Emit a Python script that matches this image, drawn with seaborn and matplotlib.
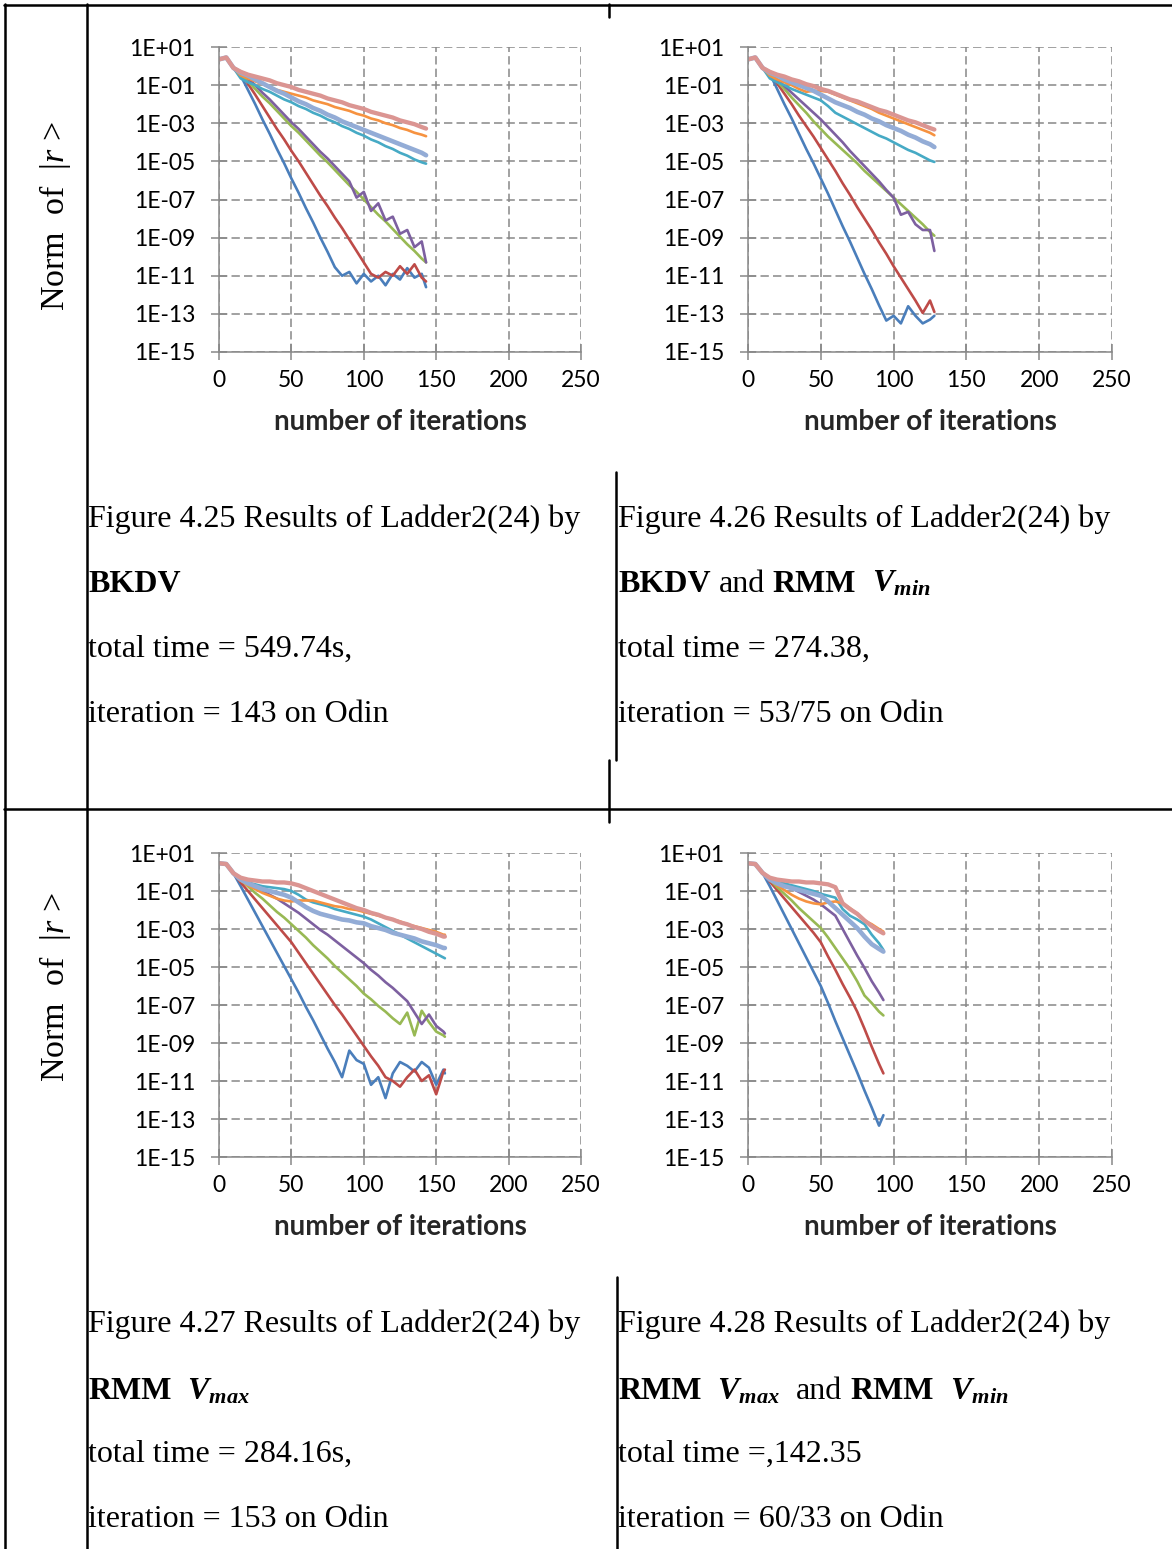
import numpy as np
import pandas as pd
import matplotlib
matplotlib.use("Agg")
import matplotlib.pyplot as plt
import seaborn as sns
from matplotlib.lines import Line2D
from matplotlib.ticker import NullLocator

# ---------------- data (log10 of residual norm) ----------------
SERIES = ["Series1", "Series2", "Series3", "Series4", "Series5", "Series6", "Series7", "Series8"]

F425_ITER = [0, 5, 10, 15, 20, 25, 30, 35, 40, 45, 50, 55, 60, 65, 70, 75, 80, 85, 90, 95,
             100, 105, 110, 115, 120, 125, 130, 135, 140, 143]
F425_S1 = [0.35, 0.45, -0.1, -0.5, -1.25, -2.0, -2.8, -3.55, -4.35, -5.1, -5.9, -6.65, -7.45, -8.2, -9.0,
           -9.75, -10.55, -11.0, -10.8, -11.4, -10.9, -11.3, -11.0, -11.5, -10.9, -11.2, -10.6, -11.1, -10.9, -11.6]
F425_S2 = [0.35, 0.45, -0.1, -0.35, -0.93, -1.5, -2.1, -2.7, -3.3, -3.85, -4.45, -5.0, -5.6, -6.2, -6.8,
           -7.35, -7.95, -8.5, -9.1, -9.7, -10.3, -10.9, -11.1, -10.8, -11.0, -10.5, -10.9, -10.4, -11.1, -11.3]
F425_S3 = [0.35, 0.45, -0.1, -0.45, -0.8, -1.2, -1.6, -1.95, -2.35, -2.75, -3.15, -3.5, -3.9, -4.3, -4.7,
           -5.05, -5.45, -5.85, -6.25, -6.6, -7.0, -7.4, -7.8, -8.15, -8.55, -8.95, -9.35, -9.7, -10.1, -10.3]
F425_S4 = [0.35, 0.45, -0.1, -0.35, -0.65, -1.0, -1.4, -1.75, -2.15, -2.55, -2.95, -3.3, -3.7, -4.1, -4.5,
           -4.85, -5.25, -5.65, -6.05, -6.9, -6.6, -7.6, -7.2, -8.1, -7.9, -8.8, -8.6, -9.5, -9.2, -10.3]
F425_S5 = [0.35, 0.45, -0.1, -0.65, -0.85, -1.0, -1.2, -1.35, -1.55, -1.75, -1.9, -2.1, -2.25, -2.45, -2.6,
           -2.8, -2.95, -3.15, -3.3, -3.5, -3.65, -3.85, -4.0, -4.2, -4.35, -4.55, -4.7, -4.9, -5.05, -5.12]
F425_S6 = [0.35, 0.45, -0.1, -0.5, -0.65, -0.8, -0.95, -1.1, -1.25, -1.35, -1.45, -1.55, -1.65, -1.8, -1.9,
           -2.0, -2.15, -2.25, -2.35, -2.5, -2.6, -2.75, -2.85, -3.0, -3.1, -3.25, -3.35, -3.5, -3.6, -3.68]
F425_S7 = [0.35, 0.45, -0.1, -0.35, -0.5, -0.7, -0.9, -1.1, -1.3, -1.45, -1.65, -1.85, -2.0, -2.2, -2.35,
           -2.55, -2.7, -2.9, -3.05, -3.2, -3.35, -3.5, -3.65, -3.8, -3.95, -4.1, -4.25, -4.4, -4.55, -4.68]
F425_S8 = [0.35, 0.45, -0.1, -0.3, -0.45, -0.55, -0.65, -0.75, -0.9, -1.0, -1.1, -1.25, -1.35, -1.45, -1.55,
           -1.7, -1.8, -1.9, -2.05, -2.15, -2.25, -2.4, -2.5, -2.6, -2.7, -2.85, -2.95, -3.05, -3.2, -3.28]

F426_ITER = [0, 5, 10, 15, 20, 25, 30, 35, 40, 45, 50, 55, 60, 65, 70, 75, 80, 85, 90, 95,
             100, 105, 110, 115, 120, 125, 128]
F426_S1 = [0.35, 0.45, -0.1, -0.4, -1.2, -2.0, -2.75, -3.55, -4.35, -5.1, -5.9, -6.7, -7.55, -8.4, -9.2,
           -10.05, -10.9, -11.7, -12.55, -13.35, -13.1, -13.5, -12.6, -13.1, -13.5, -13.3, -13.1]
F426_S2 = [0.35, 0.45, -0.1, -0.35, -0.9, -1.45, -2.0, -2.6, -3.15, -3.7, -4.3, -4.9, -5.5, -6.15, -6.75,
           -7.4, -8.0, -8.6, -9.25, -9.85, -10.5, -11.1, -11.7, -12.3, -12.95, -12.3, -12.9]
F426_S3 = [0.35, 0.45, -0.1, -0.4, -0.8, -1.2, -1.65, -2.05, -2.45, -2.9, -3.3, -3.7, -4.05, -4.4, -4.75,
           -5.1, -5.5, -5.85, -6.2, -6.55, -6.9, -7.25, -7.6, -7.95, -8.3, -8.7, -8.9]
F426_S4 = [0.35, 0.45, -0.1, -0.4, -0.7, -1.05, -1.4, -1.75, -2.1, -2.45, -2.8, -3.2, -3.6, -4.0, -4.45,
           -4.85, -5.25, -5.65, -6.05, -6.5, -6.9, -7.8, -7.65, -8.3, -8.6, -8.6, -9.7]
F426_S5 = [0.35, 0.45, -0.1, -0.65, -0.85, -1.0, -1.2, -1.35, -1.5, -1.65, -1.8, -2.1, -2.45, -2.65, -2.85,
           -3.05, -3.25, -3.45, -3.65, -3.8, -4.0, -4.2, -4.4, -4.55, -4.75, -4.95, -5.03]
F426_S6 = [0.35, 0.45, -0.1, -0.5, -0.7, -0.85, -1.0, -1.2, -1.35, -1.3, -1.3, -1.35, -1.5, -1.65, -1.8,
           -1.95, -2.1, -2.25, -2.45, -2.6, -2.75, -2.9, -3.05, -3.2, -3.35, -3.5, -3.63]
F426_S7 = [0.35, 0.45, -0.1, -0.35, -0.5, -0.7, -0.85, -1.0, -1.15, -1.3, -1.5, -1.7, -1.9, -2.05, -2.2,
           -2.4, -2.55, -2.75, -2.9, -3.1, -3.25, -3.4, -3.6, -3.75, -3.95, -4.1, -4.25]
F426_S8 = [0.35, 0.45, -0.1, -0.3, -0.45, -0.55, -0.7, -0.8, -0.95, -1.05, -1.2, -1.3, -1.45, -1.6, -1.75,
           -1.85, -2.0, -2.15, -2.3, -2.4, -2.55, -2.7, -2.85, -2.95, -3.1, -3.25, -3.33]

F427_ITER = [0, 5, 10, 15, 20, 25, 30, 35, 40, 45, 50, 55, 60, 65, 70, 75, 80, 85, 90, 95,
             100, 105, 110, 115, 120, 125, 130, 135, 140, 145, 150, 155, 156]
F427_S1 = [0.46, 0.42, -0.07, -0.75, -1.45, -2.15, -2.85, -3.55, -4.25, -4.95, -5.65, -6.35, -7.1, -7.8,
           -8.55, -9.3, -10.0, -10.8, -9.4, -9.9, -10.1, -11.2, -10.8, -11.9, -10.6, -10.0, -10.2, -10.5,
           -10.0, -10.3, -11.2, -10.4, -10.6]
F427_S2 = [0.46, 0.42, -0.07, -0.55, -1.0, -1.45, -1.9, -2.35, -2.8, -3.25, -3.7, -4.25, -4.8, -5.35,
           -5.9, -6.45, -7.0, -7.5, -8.05, -8.6, -9.15, -9.7, -10.2, -10.8, -11.0, -11.3, -10.8, -10.4,
           -11.0, -10.7, -11.7, -10.5, -10.4]
F427_S3 = [0.46, 0.42, -0.07, -0.4, -0.75, -1.1, -1.4, -1.75, -2.1, -2.4, -2.75, -3.1, -3.45, -3.85,
           -4.2, -4.55, -4.95, -5.3, -5.65, -6.0, -6.4, -6.7, -7.05, -7.35, -7.7, -8.0, -7.4, -8.6,
           -7.3, -7.9, -8.4, -8.6, -8.67]
F427_S4 = [0.46, 0.42, -0.07, -0.3, -0.55, -0.75, -1.0, -1.2, -1.4, -1.65, -1.9, -2.15, -2.45, -2.75,
           -3.05, -3.3, -3.6, -3.9, -4.2, -4.5, -4.8, -5.15, -5.45, -5.8, -6.1, -6.45, -6.8, -7.4,
           -8.0, -7.5, -8.1, -8.4, -8.5]
F427_S5 = [0.46, 0.42, -0.07, -0.4, -0.55, -0.65, -0.75, -0.8, -0.85, -0.9, -1.0, -1.2, -1.45, -1.6,
           -1.7, -1.8, -1.95, -2.05, -2.15, -2.25, -2.35, -2.5, -2.7, -2.9, -3.1, -3.3, -3.5, -3.7,
           -3.9, -4.1, -4.3, -4.5, -4.54]
F427_S6 = [0.46, 0.42, -0.07, -0.45, -0.7, -0.9, -1.1, -1.25, -1.4, -1.5, -1.55, -1.5, -1.5, -1.5,
           -1.6, -1.7, -1.8, -1.85, -1.95, -2.0, -2.1, -2.2, -2.3, -2.4, -2.5, -2.6, -2.75, -2.85,
           -2.95, -3.05, -3.15, -3.3, -3.3]
F427_S7 = [0.46, 0.42, -0.07, -0.4, -0.6, -0.75, -0.9, -1.0, -1.1, -1.2, -1.35, -1.6, -1.85, -2.05,
           -2.2, -2.3, -2.4, -2.5, -2.55, -2.65, -2.7, -2.85, -2.95, -3.05, -3.2, -3.3, -3.4, -3.5,
           -3.65, -3.75, -3.85, -4.0, -4.0]
F427_S8 = [0.46, 0.42, -0.07, -0.3, -0.4, -0.45, -0.5, -0.5, -0.55, -0.55, -0.6, -0.7, -0.85, -1.0,
           -1.15, -1.3, -1.45, -1.6, -1.75, -1.9, -2.0, -2.15, -2.25, -2.4, -2.5, -2.65, -2.75, -2.9,
           -3.0, -3.15, -3.25, -3.4, -3.4]

F428_ITER = [0, 5, 10, 15, 20, 25, 30, 35, 40, 45, 50, 55, 60, 65, 70, 75, 80, 85, 90, 93]
F428_S1 = [0.46, 0.42, -0.05, -0.75, -1.5, -2.25, -3.0, -3.75, -4.5, -5.25, -6.0, -6.9, -7.85, -8.75,
           -9.65, -10.55, -11.5, -12.4, -13.35, -12.8]
F428_S2 = [0.46, 0.42, -0.05, -0.5, -0.95, -1.4, -1.85, -2.3, -2.75, -3.2, -3.7, -4.45, -5.15, -5.9,
           -6.6, -7.35, -8.25, -9.2, -10.1, -10.6]
F428_S3 = [0.46, 0.42, -0.05, -0.4, -0.8, -1.15, -1.5, -1.9, -2.25, -2.6, -2.95, -3.45, -4.0, -4.55,
           -5.1, -5.75, -6.5, -6.9, -7.35, -7.55]
F428_S4 = [0.46, 0.42, -0.05, -0.3, -0.45, -0.65, -0.85, -1.05, -1.25, -1.45, -1.7, -2.0, -2.3, -3.0,
           -3.7, -4.4, -5.05, -5.75, -6.35, -6.74]
F428_S5 = [0.46, 0.42, -0.05, -0.35, -0.5, -0.6, -0.7, -0.8, -0.9, -1.0, -1.15, -1.25, -1.35, -1.95,
           -2.3, -2.5, -2.75, -3.3, -3.75, -4.1]
F428_S6 = [0.46, 0.42, -0.05, -0.4, -0.7, -0.95, -1.2, -1.4, -1.55, -1.65, -1.7, -1.6, -1.55, -1.65,
           -1.9, -2.2, -2.55, -2.75, -3.0, -3.14]
F428_S7 = [0.46, 0.42, -0.05, -0.4, -0.6, -0.75, -0.85, -0.95, -1.05, -1.15, -1.25, -1.55, -1.9, -2.25,
           -2.6, -2.95, -3.4, -3.8, -4.05, -4.19]
F428_S8 = [0.46, 0.42, -0.05, -0.3, -0.4, -0.45, -0.5, -0.5, -0.55, -0.55, -0.6, -0.65, -0.8, -1.65,
           -1.95, -2.2, -2.55, -2.85, -3.1, -3.23]

X_TICKS = [0, 50, 100, 150, 200, 250]
Y_TICK_EXP = [1, -1, -3, -5, -7, -9, -11, -13, -15]
Y_TICK_LABELS = ["1E+01", "1E-01", "1E-03", "1E-05", "1E-07", "1E-09", "1E-11", "1E-13", "1E-15"]

CAPTION_425 = ["Figure 4.25 Results of Ladder2(24) by", "total time = 549.74s,", "iteration = 143 on Odin"]
CAPTION_426 = ["Figure 4.26 Results of Ladder2(24) by", "total time = 274.38,", "iteration = 53/75 on Odin"]
CAPTION_427 = ["Figure 4.27 Results of Ladder2(24) by", "total time = 284.16s,", "iteration = 153 on Odin"]
CAPTION_428 = ["Figure 4.28 Results of Ladder2(24) by", "total time =,142.35", "iteration = 60/33 on Odin"]

# ---------------- style ----------------
sns.set_theme(style="white")
plt.rcParams["font.family"] = ["Lato", "DejaVu Sans"]
plt.rcParams["mathtext.fontset"] = "custom"
plt.rcParams["mathtext.rm"] = "Liberation Serif"
plt.rcParams["mathtext.it"] = "Liberation Serif:italic"
plt.rcParams["mathtext.bf"] = "Liberation Serif:italic:bold"
plt.rcParams["lines.scale_dashes"] = False

PALETTE = dict(zip(SERIES, ["#4A7EBB", "#BE4B48", "#98B954", "#7D60A0",
                            "#46AAC5", "#F69240", "#93ACD6", "#DB9592"]))
WIDTHS = dict(zip(SERIES, [1.9, 1.9, 1.9, 1.9, 1.9, 1.9, 3.3, 3.1]))
GRID_C = "#888888"

W, H = 1172, 1549
fig = plt.figure(figsize=(W / 100, H / 100), dpi=100)
fig.patch.set_facecolor("white")


def rect(l, r, t, b):
    return [l / W, 1 - b / H, (r - l) / W, (b - t) / H]


def make_df(it, cols):
    parts = []
    for name, vals in zip(SERIES, cols):
        parts.append(pd.DataFrame({"iteration": it, "norm": 10.0 ** np.array(vals), "series": name}))
    return pd.concat(parts, ignore_index=True)


CHARTS = [
    (rect(219, 581, 47, 352), make_df(F425_ITER, [F425_S1, F425_S2, F425_S3, F425_S4, F425_S5, F425_S6, F425_S7, F425_S8])),
    (rect(748, 1112, 47, 352), make_df(F426_ITER, [F426_S1, F426_S2, F426_S3, F426_S4, F426_S5, F426_S6, F426_S7, F426_S8])),
    (rect(219, 581, 853, 1157), make_df(F427_ITER, [F427_S1, F427_S2, F427_S3, F427_S4, F427_S5, F427_S6, F427_S7, F427_S8])),
    (rect(748, 1112, 853, 1157), make_df(F428_ITER, [F428_S1, F428_S2, F428_S3, F428_S4, F428_S5, F428_S6, F428_S7, F428_S8])),
]

for pos, df in CHARTS:
    ax = fig.add_axes(pos)
    ax.set_yscale("log")
    sns.lineplot(data=df, x="iteration", y="norm", hue="series", hue_order=SERIES, palette=PALETTE,
                 size="series", size_order=SERIES, sizes=WIDTHS, estimator=None, sort=False,
                 legend=False, ax=ax)
    ax.set_xlim(0, 250)
    ax.set_ylim(1e-15, 1e1)
    ax.set_xticks(X_TICKS)
    ax.set_xticklabels([str(v) for v in X_TICKS])
    ax.set_yticks([10.0 ** e for e in Y_TICK_EXP])
    ax.set_yticklabels(Y_TICK_LABELS)
    ax.yaxis.set_minor_locator(NullLocator())
    ax.set_axisbelow(True)
    ax.grid(True, color=GRID_C, linestyle=(0, (6, 3)), linewidth=1.1)
    for s in ["top", "right"]:
        ax.spines[s].set_visible(False)
    for s in ["left", "bottom"]:
        ax.spines[s].set_color(GRID_C)
        ax.spines[s].set_linewidth(1.1)
    ax.tick_params(axis="both", which="major", bottom=True, left=True, direction="inout",
                   length=12, width=1.1, color=GRID_C, labelsize=16.5, labelcolor="black")
    ax.tick_params(axis="y", pad=11)
    ax.tick_params(axis="x", pad=7)
    ax.set_ylabel("")
    ax.set_xlabel("number of iterations", fontsize=20, fontweight="bold", labelpad=13)
    ax.set_facecolor("white")

# ---------------- table lines ----------------
def hline(y, x0, x1):
    fig.add_artist(Line2D([x0 / W, x1 / W], [1 - y / H, 1 - y / H], transform=fig.transFigure,
                          color="black", lw=1.8))


def vline(x, y0, y1):
    fig.add_artist(Line2D([x / W, x / W], [1 - y0 / H, 1 - y1 / H], transform=fig.transFigure,
                          color="black", lw=1.8))


hline(5, 4, W)
hline(809, 4, W)
vline(5, 4, H)
vline(87, 4, H)
vline(609, 4, 17)
vline(616, 472, 760)
vline(609, 760, 822)
vline(617, 1277, H)

# ---------------- texts ----------------
SERIF = "Liberation Serif"
CAP = 23
renderer = fig.canvas.get_renderer()
SP = 0.25 * CAP * 100 / 72


def put(x, y, s, weight="normal"):
    t = fig.text(x / W, 1 - y / H, s, fontsize=CAP, family=SERIF, fontweight=weight,
                 ha="left", va="baseline", color="black")
    return t.get_window_extent(renderer=renderer).x1


def rich(x, y, parts):
    cur = x
    for kind, s in parts:
        if kind == "gap":
            cur += SP * s
        else:
            cur = put(cur, y, s, weight="bold" if kind == "b" else "normal")


VMIN = r"$\mathbf{V_{min}}$"
VMAX = r"$\mathbf{V_{max}}$"

for (x, ys, cap, second) in [
    (88, (527, 592, 657, 722), CAPTION_425, [("b", "BKDV")]),
    (618, (527, 592, 657, 722), CAPTION_426, [("b", "BKDV"), ("gap", 1), ("n", "and"), ("gap", 1),
                                              ("b", "RMM"), ("gap", 2), ("m", VMIN)]),
    (88, (1332, 1399, 1462, 1527), CAPTION_427, [("b", "RMM"), ("gap", 2), ("m", VMAX)]),
    (618, (1332, 1399, 1462, 1527), CAPTION_428, [("b", "RMM"), ("gap", 2), ("m", VMAX), ("gap", 2),
                                                 ("n", "and"), ("gap", 1), ("b", "RMM"), ("gap", 2),
                                                 ("m", VMIN)]),
]:
    put(x, ys[0], cap[0])
    rich(x, ys[1], second)
    put(x, ys[2], cap[1])
    put(x, ys[3], cap[2])

for yc in (216, 987):
    fig.text(55 / W, 1 - yc / H, r"Norm  of  |$r$ >", rotation=90, ha="center", va="center",
             family=SERIF, fontsize=24.5, color="black")

fig.savefig("out.png", dpi=100, facecolor="white")
